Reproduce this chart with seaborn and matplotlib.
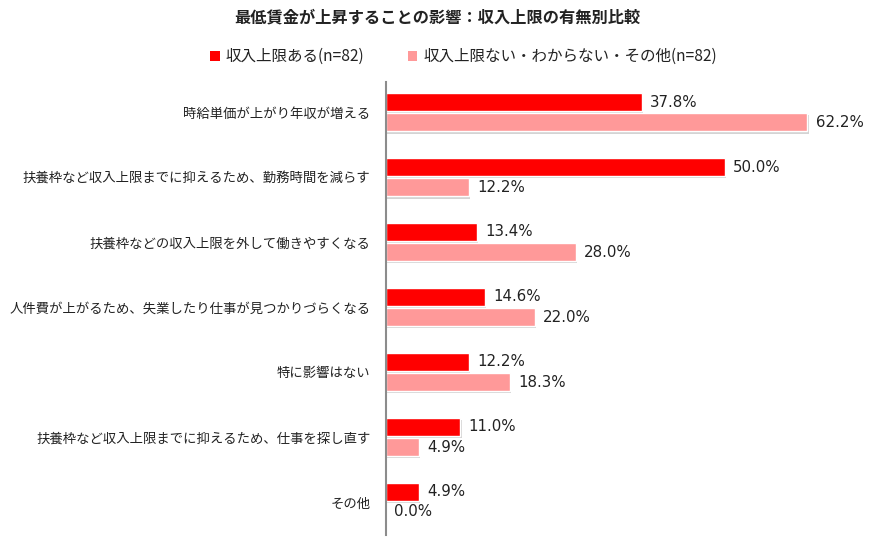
import matplotlib
matplotlib.use("Agg")
import matplotlib.pyplot as plt
import matplotlib.patheffects as pe
from matplotlib.patches import Patch
import seaborn as sns
import pandas as pd

# data
categories = [
    "時給単価が上がり年収が増える",
    "扶養枠など収入上限までに抑えるため、勤務時間を減らす",
    "扶養枠などの収入上限を外して働きやすくなる",
    "人件費が上がるため、失業したり仕事が見つかりづらくなる",
    "特に影響はない",
    "扶養枠など収入上限までに抑えるため、仕事を探し直す",
    "その他",
]
series_names = ["収入上限ある(n=82)", "収入上限ない・わからない・その他(n=82)"]
with_limit = [37.8, 50.0, 13.4, 14.6, 12.2, 11.0, 4.9]
without_limit = [62.2, 12.2, 28.0, 22.0, 18.3, 4.9, 0.0]
colors = ["#FF0000", "#FF9999"]

df = pd.DataFrame({
    "category": categories * 2,
    "value": with_limit + without_limit,
    "group": [series_names[0]] * len(categories) + [series_names[1]] * len(categories),
})

sns.set_style("white")
plt.rcParams["font.family"] = ["Noto Sans CJK JP", "DejaVu Sans"]

fig = plt.figure(figsize=(8.75, 5.41), dpi=100)
ax = fig.add_axes([0.441, 0.011, 0.542, 0.837])

sns.barplot(data=df, y="category", x="value", hue="group", order=categories,
            hue_order=series_names, palette=colors, orient="h",
            width=0.62, gap=0.08, saturation=1, ax=ax, legend=False)

# soft drop shadow under the bars
shadow = [pe.SimplePatchShadow(offset=(1, -1.5), shadow_rgbFace="#aaaaaa", alpha=0.5), pe.Normal()]
for cont in ax.containers:
    for p in cont:
        p.set_path_effects(shadow)

for cont in ax.containers:
    ax.bar_label(cont, fmt="%.1f%%", padding=6, fontsize=10.8, color="#222222",
                 fontfamily="DejaVu Sans")

ax.set_xlim(0, 70)
ax.set_ylim(6.51, -0.46)
ax.set_xlabel("")
ax.set_ylabel("")
ax.set_xticks([])
ax.tick_params(axis="y", length=0, pad=11, labelsize=9.6, labelcolor="#222222")
for side in ["top", "right", "bottom"]:
    ax.spines[side].set_visible(False)
ax.spines["left"].set_color("#8c8c8c")
ax.spines["left"].set_linewidth(1.5)

handles = [Patch(facecolor=c, edgecolor="none") for c in colors]
fig.legend(handles=handles, labels=series_names,
           loc="center", bbox_to_anchor=(0.53, 0.895), ncol=2, frameon=False,
           fontsize=11.2, handlelength=0.6, handleheight=0.6, handletextpad=0.4,
           columnspacing=2.8, labelcolor="#222222")

fig.suptitle("最低賃金が上昇することの影響：収入上限の有無別比較", x=0.5, y=0.967,
             va="center", fontsize=11.7, fontweight="bold", color="#222222")

fig.savefig("out.png", dpi=100)
